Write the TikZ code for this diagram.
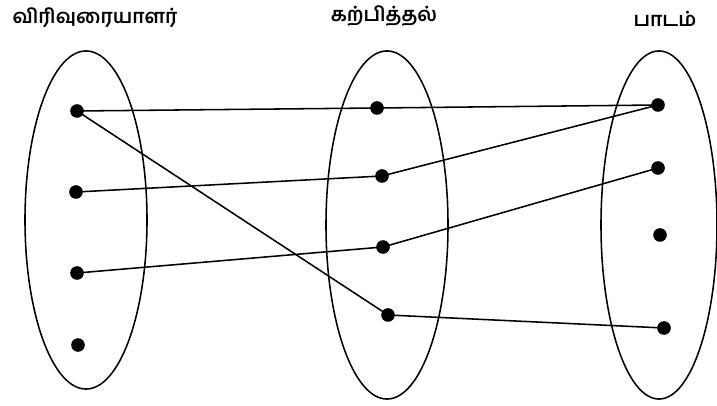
\documentclass[tikz,border=0pt]{standalone}
\usepackage{fontspec}
\newfontfamily\tamilfont[Script=Tamil]{Hind Madurai}
\usetikzlibrary{shapes.geometric}

\begin{document}
\begin{tikzpicture}[
  x=0.025cm, y=-0.025cm,
  setbox/.style={ellipse, draw, line width=1.1pt, minimum width=3.05cm, minimum height=8.45cm, inner sep=0pt},
  elem/.style={circle, fill=black, minimum size=0.34cm, inner sep=0pt},
  link/.style={line width=1.1pt},
  lbl/.style={font=\tamilfont\bfseries\fontsize{14}{16}\selectfont},
]
\useasboundingbox (0,0) rectangle (717,406);

% --- Etiquetas ---
\node[lbl] (tA) at (95,18) {விரிவுரையாளர்};
\node[lbl] (tB) at (384,16) {கற்பித்தல்};
\node[lbl] (tC) at (665,19) {பாடம்};

% --- Conjuntos ---
\node[setbox] (eA) at (86,220) {};
\node[setbox, minimum height=8.7cm] (eB) at (387,225) {};
\node[setbox, minimum width=2.9cm, minimum height=8.7cm] (eC) at (659,225) {};

% --- Elementos ---
\node[elem] (a1) at (77,111) {};
\node[elem] (a2) at (76,192) {};
\node[elem] (a3) at (77,273) {};
\node[elem] (a4) at (78,345) {};

\node[elem] (b1) at (377,108) {};
\node[elem] (b2) at (382,176) {};
\node[elem] (b3) at (383,247) {};
\node[elem] (b4) at (388,315) {};

\node[elem] (c1) at (658,105) {};
\node[elem] (c2) at (658,168) {};
\node[elem] (c3) at (660,235) {};
\node[elem] (c4) at (664,328) {};

% --- Relaciones ---
\draw[link] (a1.center) -- (b1.center) -- (c1.center);
\draw[link] (a1.center) -- (b4.center) -- (c4.center);
\draw[link] (a2.center) -- (b2.center) -- (c1.center);
\draw[link] (a3.center) -- (b3.center) -- (c2.center);

\end{tikzpicture}
\end{document}
